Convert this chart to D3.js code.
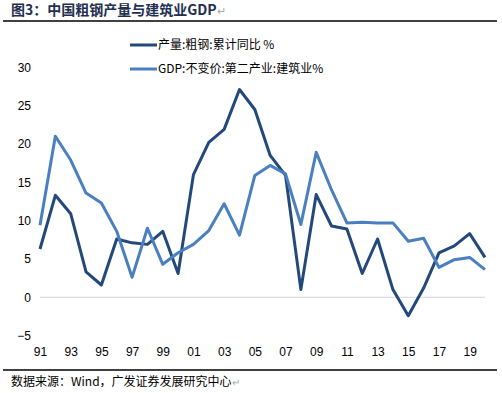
<!DOCTYPE html>
<html>
<head>
<meta charset="utf-8">
<script src="https://cdn.jsdelivr.net/npm/d3@7"></script>
<style>
  html, body { margin: 0; padding: 0; background: #fff; }
  svg { display: block; }
</style>
</head>
<body>
<svg></svg>
<script>
let years = d3.range(1991, 2021);
let steel = [6.3, 13.3, 10.9, 3.3, 1.6, 7.6, 7.1, 6.9, 8.6, 3.1,
             16.0, 20.2, 21.9, 27.1, 24.5, 18.5, 15.9, 1.0, 13.4, 9.3,
             8.9, 3.1, 7.6, 1.0, -2.4, 1.2, 5.8, 6.7, 8.3, 5.2];
let gdp = [9.4, 21.0, 17.9, 13.6, 12.3, 8.6, 2.6, 9.0, 4.3, 5.8,
           6.9, 8.7, 12.2, 8.1, 15.9, 17.2, 16.1, 9.5, 18.9, 14.0,
           9.7, 9.8, 9.7, 9.7, 7.3, 7.7, 3.9, 4.9, 5.2, 3.6];
let yTicks = [-5, 0, 5, 10, 15, 20, 25, 30];
let xTicks = d3.range(1991, 2021, 2);
let seriesNames = ['产量:粗钢:累计同比 %', 'GDP:不变价:第二产业:建筑业%'];
let seriesColors = ['#23497a', '#4a7fc0'];
let titleText = '图3：中国粗钢产量与建筑业GDP';
let sourceText = '数据来源：Wind，广发证券发展研究中心';

let w = 502;
let h = 393;

let svg = d3.select('svg').attr('width', w).attr('height', h);

let cjk = '"Noto Sans CJK SC", "Noto Sans", sans-serif';
let latin = '"Liberation Sans", Arial, sans-serif';

// title + rule
let title = svg.append('text')
  .attr('x', 11).attr('y', 15)
  .style('font-family', cjk).style('font-size', '14px').style('font-weight', 'bold')
  .style('fill', '#1f3050');
title.append('tspan').text(titleText);
title.append('tspan').text('↵').style('fill', '#aaa').style('font-weight', 'normal').style('font-size', '11px');

svg.append('line')
  .attr('x1', 3).attr('x2', 497).attr('y1', 21).attr('y2', 21)
  .attr('stroke', '#000').attr('stroke-width', 1.5);

// scales
let x = d3.scalePoint().domain(years).range([40, 485]);
let y = d3.scaleLinear().domain([-5, 30]).range([335.6, 67.3]);

// zero line
svg.append('line')
  .attr('x1', 40).attr('x2', 485)
  .attr('y1', y(0)).attr('y2', y(0))
  .attr('stroke', '#d4d4d4').attr('stroke-width', 1);

// y axis
let yAxis = d3.axisLeft(y).tickValues(yTicks).tickSize(0).tickPadding(0);
let gy = svg.append('g')
  .attr('transform', 'translate(31, 0)')
  .call(yAxis);
gy.select('.domain').remove();
gy.selectAll('text')
  .style('font-family', latin).style('font-size', '12px').style('fill', '#000');

// x axis
let xAxis = d3.axisBottom(x).tickValues(xTicks).tickSize(0).tickPadding(0)
  .tickFormat(d => String(d).slice(2));
let gx = svg.append('g')
  .attr('transform', 'translate(0, 347)')
  .call(xAxis);
gx.select('.domain').remove();
gx.selectAll('text')
  .style('font-family', latin).style('font-size', '12px').style('fill', '#000');

// lines
let line = d3.line()
  .x((d, i) => x(years[i]))
  .y(d => y(d));

[steel, gdp].forEach((s, i) => {
  svg.append('path')
    .datum(s)
    .attr('d', line)
    .attr('fill', 'none')
    .attr('stroke', seriesColors[i])
    .attr('stroke-width', 3)
    .attr('stroke-linejoin', 'round');
});

// legend
let legend = svg.selectAll('.legend')
  .data(seriesNames)
  .enter()
  .append('g')
  .attr('class', 'legend')
  .attr('transform', (d, i) => 'translate(130, ' + (45 + i * 24) + ')');

legend.append('line')
  .attr('x1', 0).attr('x2', 27)
  .attr('stroke', (d, i) => seriesColors[i])
  .attr('stroke-width', 3);

legend.append('text')
  .attr('x', 28).attr('dy', '0.35em')
  .style('font-family', cjk).style('font-size', '12px').style('fill', '#000')
  .text(d => d);

// source
svg.append('line')
  .attr('x1', 3).attr('x2', 497).attr('y1', 370).attr('y2', 370)
  .attr('stroke', '#000').attr('stroke-width', 1.5);

let src = svg.append('text')
  .attr('x', 11).attr('y', 386)
  .style('font-family', cjk).style('font-size', '12px').style('fill', '#000');
src.append('tspan').text(sourceText);
src.append('tspan').text('↵').style('fill', '#aaa').style('font-size', '10px');
</script>
</body>
</html>
